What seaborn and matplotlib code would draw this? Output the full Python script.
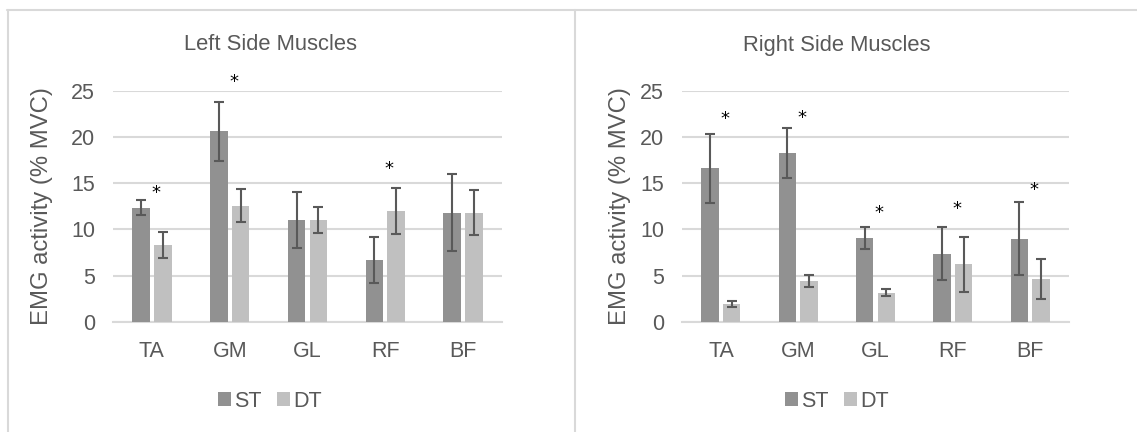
import matplotlib
matplotlib.use("Agg")
import matplotlib.pyplot as plt
from matplotlib.lines import Line2D
import seaborn as sns
import pandas as pd

# Muscles and task conditions
muscles = ["TA", "GM", "GL", "RF", "BF"]
conditions = ["ST", "DT"]

# Left side: mean EMG (% MVC) and error
left_st = [12.35, 20.6, 11.0, 6.7, 11.8]
left_st_err = [0.8, 3.2, 3.0, 2.5, 4.2]
left_dt = [8.3, 12.55, 11.0, 11.95, 11.8]
left_dt_err = [1.4, 1.8, 1.45, 2.5, 2.4]
left_star = [13.9, 25.9, None, 16.5, None]

# Right side: mean EMG (% MVC) and error
right_st = [16.6, 18.3, 9.05, 7.35, 9.0]
right_st_err = [3.75, 2.7, 1.15, 2.85, 3.97]
right_dt = [1.9, 4.37, 3.15, 6.2, 4.65]
right_dt_err = [0.3, 0.65, 0.35, 2.95, 2.15]
right_star = [21.9, 22.0, 11.8, 12.2, 14.25]

yticks = [0, 5, 10, 15, 20, 25]

TEXT = "#595959"
GRID = "#d9d9d9"
COLORS = {"ST": "#919191", "DT": "#c0c0c0"}

sns.set_theme(style="white")
plt.rcParams["font.family"] = ["Liberation Sans", "DejaVu Sans"]
plt.rcParams["text.color"] = TEXT
plt.rcParams["axes.labelcolor"] = TEXT
plt.rcParams["xtick.color"] = TEXT
plt.rcParams["ytick.color"] = TEXT

fig = plt.figure(figsize=(11.37, 4.32), dpi=100)

W, H = 1137.0, 432.0
panels = [
    dict(title="Left Side Muscles", st=left_st, st_err=left_st_err, dt=left_dt,
         dt_err=left_dt_err, star=left_star, rect=(113, 502), center=270, labelpad=13),
    dict(title="Right Side Muscles", st=right_st, st_err=right_st_err, dt=right_dt,
         dt_err=right_dt_err, star=right_star, rect=(682.3, 1068.7), center=837, labelpad=6.5),
]

for p in panels:
    x0, x1 = p["rect"]
    ax = fig.add_axes([x0 / W, 1 - 321.7 / H, (x1 - x0) / W, (321.7 - 90.7) / H])
    df = pd.DataFrame({
        "muscle": muscles * 2,
        "condition": ["ST"] * len(muscles) + ["DT"] * len(muscles),
        "value": p["st"] + p["dt"],
    })
    sns.barplot(data=df, x="muscle", y="value", hue="condition", order=muscles,
                hue_order=conditions, palette=COLORS, width=0.56, gap=0.2,
                errorbar=None, ax=ax, legend=True, zorder=3, linewidth=0)

    for container, err in zip(ax.containers, [p["st_err"], p["dt_err"]]):
        xs = [b.get_x() + b.get_width() / 2 for b in container]
        hs = [b.get_height() for b in container]
        ax.errorbar(xs, hs, yerr=err, fmt="none", ecolor=TEXT, elinewidth=1.5,
                    capsize=3.6, capthick=1.5, zorder=4)

    for i, y in enumerate(p["star"]):
        if y is not None:
            ax.text(i + 0.05, y, "*", ha="center", va="center", fontsize=13,
                    color="black", family="DejaVu Sans")

    ax.set_ylim(0, 25)
    ax.set_xlim(-0.5, 4.5)
    ax.set_yticks(yticks)
    ax.yaxis.grid(True, color=GRID, linewidth=1.5, zorder=0)
    ax.set_axisbelow(True)
    for side in ["top", "right", "left"]:
        ax.spines[side].set_visible(False)
    ax.spines["bottom"].set_color(GRID)
    ax.spines["bottom"].set_linewidth(1.5)
    ax.tick_params(axis="x", length=0, pad=14, labelsize=15.5)
    ax.tick_params(axis="y", length=0, pad=13, labelsize=15.5)
    ax.set_xlabel("")
    ax.set_ylabel("EMG activity (% MVC)", fontsize=17.2, labelpad=p["labelpad"])

    fig.text(p["center"] / W, 1 - 45 / H, p["title"], ha="center", va="center",
             fontsize=15.8, color=TEXT)

    handles, labels = ax.get_legend_handles_labels()
    ax.legend(handles, labels, loc="center", bbox_to_anchor=(p["center"] / W, 1 - 401.5 / H),
              bbox_transform=fig.transFigure, ncol=2, frameon=False, fontsize=15.5,
              handlelength=0.62, handleheight=0.62, handletextpad=0.15,
              columnspacing=0.7, borderpad=0)

# Panel frames
for xs, ys in [((7 / W, 1), (1 - 10 / H, 1 - 10 / H)),
               ((7.5 / W, 7.5 / W), (0, 1 - 10 / H)),
               ((575 / W, 575 / W), (0, 1 - 10 / H))]:
    fig.add_artist(Line2D(xs, ys, color=GRID, linewidth=1.5, transform=fig.transFigure))

fig.savefig("out.png", dpi=100, facecolor="white")
